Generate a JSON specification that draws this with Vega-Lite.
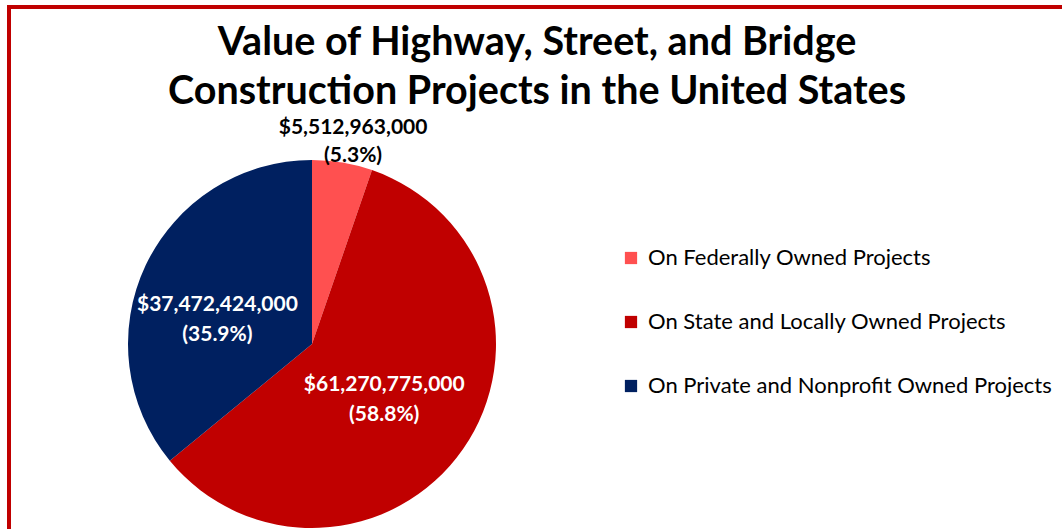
{
  "$schema": "https://vega.github.io/schema/vega-lite/v6.json",
  "width": 1056,
  "height": 530,
  "autosize": "none",
  "padding": {"left": 9, "top": 7, "right": 0, "bottom": 0},
  "background": "white",
  "view": {"stroke": "#C00000", "strokeWidth": 4, "fill": "white"},
  "config": {"view": {"stroke": "#C00000", "strokeWidth": 4}, "font": "Lato"},
  "title": {
    "text": ["Value of Highway, Street, and Bridge", "Construction Projects in the United States"],
    "font": "Lato", "fontSize": 39.5, "fontWeight": "bold", "color": "#000000",
    "anchor": "middle", "frame": "group", "offset": -105, "lineHeight": 49
  },
  "data": {"values": [
    {"owner": "On Federally Owned Projects", "value": 5512963000, "label": "$5,512,963,000\n(5.3%)", "rank": 1},
    {"owner": "On State and Locally Owned Projects", "value": 61270775000, "label": "$61,270,775,000\n(58.8%)", "rank": 2},
    {"owner": "On Private and Nonprofit Owned Projects", "value": 37472424000, "label": "$37,472,424,000\n(35.9%)", "rank": 3}
  ]},
  "layer": [
    {
      "mark": {"type": "arc", "x": 303, "y": 337, "radius": 184},
      "encoding": {
        "theta": {"field": "value", "type": "quantitative", "stack": true},
        "order": {"field": "rank", "type": "quantitative"},
        "color": {
          "field": "owner", "type": "nominal",
          "scale": {
            "domain": ["On Federally Owned Projects", "On State and Locally Owned Projects", "On Private and Nonprofit Owned Projects"],
            "range": ["#FF5050", "#C00000", "#002060"]
          },
          "legend": {
            "orient": "none", "legendX": 611, "legendY": 240, "title": null,
            "symbolType": "square", "symbolSize": 150, "symbolStrokeWidth": 0,
            "labelFont": "Lato", "labelFontSize": 22, "labelColor": "#000000", "labelLimit": 0,
            "labelOffset": 6, "rowPadding": 42, "padding": 0
          }
        }
      }
    },
    {
      "mark": {"type": "text", "x": 303, "y": 337, "radius": 206, "dx": 7, "dy": -13, "fontSize": 21, "fontWeight": "bold", "lineBreak": "\n", "lineHeight": 28, "align": "center", "baseline": "middle", "color": "#000000"},
      "encoding": {
        "theta": {"field": "value", "type": "quantitative", "stack": true},
        "order": {"field": "rank", "type": "quantitative"},
        "text": {"condition": {"test": "datum.rank === 1", "field": "label"}, "value": ""}
      }
    },
    {
      "mark": {"type": "text", "x": 303, "y": 337, "radius": 88, "dy": -9, "fontSize": 21, "fontWeight": "bold", "lineBreak": "\n", "lineHeight": 30, "align": "center", "baseline": "middle", "color": "#FFFFFF"},
      "encoding": {
        "theta": {"field": "value", "type": "quantitative", "stack": true},
        "order": {"field": "rank", "type": "quantitative"},
        "text": {"condition": {"test": "datum.rank === 2", "field": "label"}, "value": ""}
      }
    },
    {
      "mark": {"type": "text", "x": 303, "y": 337, "radius": 98, "dx": -6, "dy": 3, "fontSize": 21, "fontWeight": "bold", "lineBreak": "\n", "lineHeight": 30, "align": "center", "baseline": "middle", "color": "#FFFFFF"},
      "encoding": {
        "theta": {"field": "value", "type": "quantitative", "stack": true},
        "order": {"field": "rank", "type": "quantitative"},
        "text": {"condition": {"test": "datum.rank === 3", "field": "label"}, "value": ""}
      }
    }
  ]
}
